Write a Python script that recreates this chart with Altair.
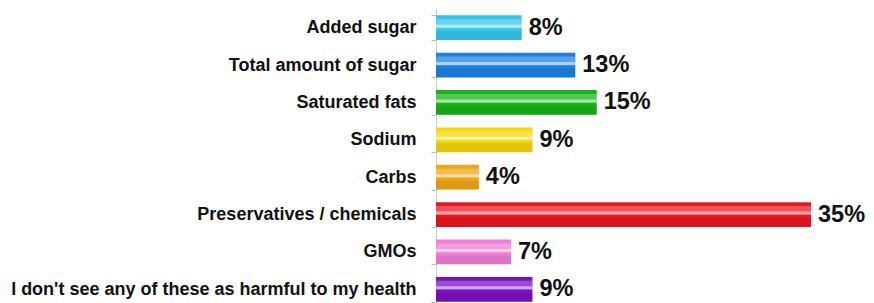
import altair as alt
import pandas as pd

categories = [
    "Added sugar",
    "Total amount of sugar",
    "Saturated fats",
    "Sodium",
    "Carbs",
    "Preservatives / chemicals",
    "GMOs",
    "I don't see any of these as harmful to my health",
]
values = [8, 13, 15, 9, 4, 35, 7, 9]
colors = ["#35C6EC", "#1C80E4", "#18B418", "#F3D70A", "#F0A516", "#EA1520", "#F07ED6", "#7A12C2"]

df = pd.DataFrame({"category": categories, "value": values})
df["label"] = df["value"].astype(str) + "%"

y_enc = alt.Y(
    "category:N",
    sort=categories,
    title=None,
    scale=alt.Scale(range=[0, 299], paddingInner=0.34, paddingOuter=0.17),
    axis=alt.Axis(
        labelFont="Liberation Sans",
        labelFontSize=18,
        labelFontWeight="bold",
        labelColor="#111111",
        labelLimit=0,
        labelPadding=15,
        tickBand="extent",
        tickSize=5,
        tickColor="#bbbbbb",
        domainColor="#cccccc",
        grid=False,
    ),
)
x_enc = alt.X("value:Q", title=None, scale=alt.Scale(domain=[0, 40.13], nice=False), axis=None)

base = alt.Chart(df)

bars = base.mark_bar(cornerRadius=0).encode(
    y=y_enc,
    x=x_enc,
    color=alt.Color("category:N", scale=alt.Scale(domain=categories, range=colors), legend=None),
)
shade = base.mark_bar(color="black", opacity=0.08, height=9, yOffset=8).encode(y=y_enc, x=x_enc)
gloss = base.mark_bar(color="white", opacity=0.25, height=9, yOffset=-4).encode(y=y_enc, x=x_enc)
stripe = base.mark_bar(color="white", opacity=0.5, height=3, yOffset=-1.5).encode(y=y_enc, x=x_enc)
text = base.mark_text(
    align="left", baseline="middle", dx=7, dy=0,
    font="Liberation Sans", fontSize=23.5, fontWeight="bold", color="#111111",
).encode(y=y_enc, x=x_enc, text="label:N")

chart = (
    alt.layer(bars, shade, gloss, stripe, text)
    .properties(
        width=430,
        height=294,
        background="white",
        autosize=alt.AutoSizeParams(type="none"),
        padding={"left": 428, "top": 1, "right": 0, "bottom": 0},
    )
    .configure_view(strokeWidth=0, stroke="transparent")
)

chart.save("out.html", embed_options={"renderer": "svg", "actions": False})
